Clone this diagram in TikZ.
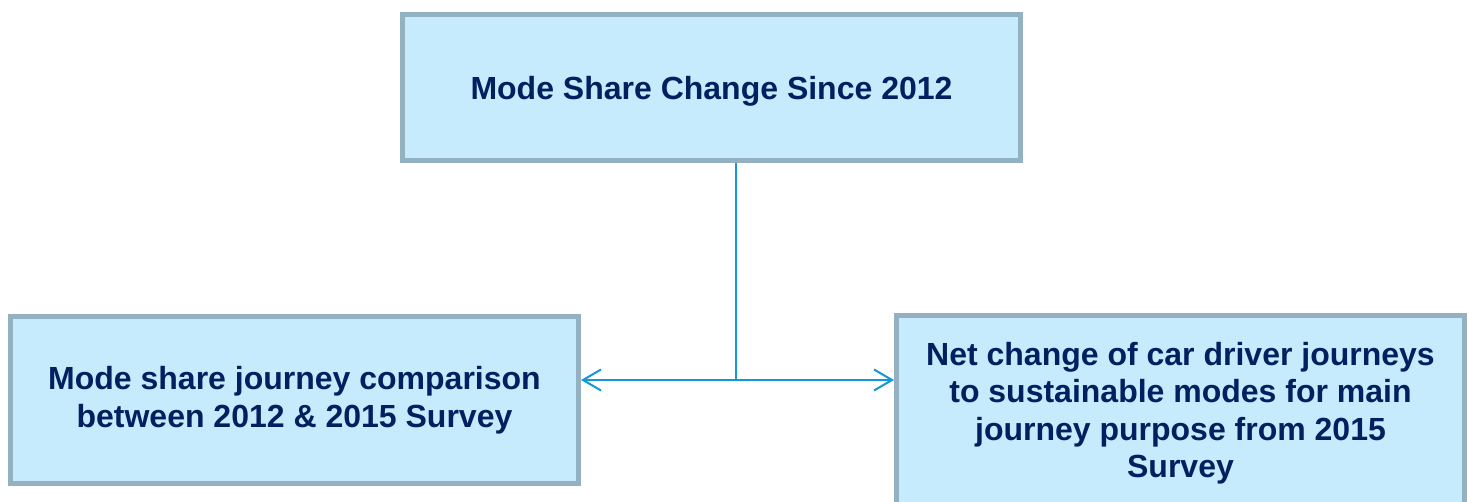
\documentclass[tikz,border=0pt]{standalone}
\usepackage{fontspec}
\setmainfont{Liberation Sans}
\usetikzlibrary{arrows.meta}

\definecolor{boxfill}{HTML}{C5EBFD}
\definecolor{boxline}{HTML}{93B1C1}
\definecolor{textnavy}{HTML}{002060}
\definecolor{linkblue}{HTML}{1297DA}

\tikzset{
  surveybox/.style={draw=boxline, line width=5pt, fill=boxfill, text=textnavy,
    font=\bfseries\fontsize{32}{37.5}\selectfont, align=center, inner sep=0pt},
  link/.style={draw=linkblue, line width=2pt}
}

\begin{document}
\begin{tikzpicture}[x=1pt,y=-1pt]
   \useasboundingbox[fill=white] (0,0) rectangle (1467,502);

   \node[surveybox, minimum width=618, minimum height=146, text depth=0pt]
   (change) at (711.5,87.5) {Mode Share Change Since 2012};

   \node[surveybox, minimum width=568, minimum height=167]
   (comparison) at (294.5,400) {Mode share journey comparison\\between 2012 \& 2015 Survey};

   \node[surveybox, minimum width=568, minimum height=195]
   (netchange) at (1180.5,413)
   {Net change of car driver journeys\\to sustainable modes for main\\journey purpose from 2015\\Survey};

   \coordinate (split) at (736,380);
   \draw[link] (change.south -| split) -- (split);
   \draw[link, {Straight Barb[length=18pt,width=21pt]}-{Straight Barb[length=18pt,width=21pt]}]
   (comparison.east |- split) -- (netchange.west |- split);

 \end{tikzpicture}
\end{document}
